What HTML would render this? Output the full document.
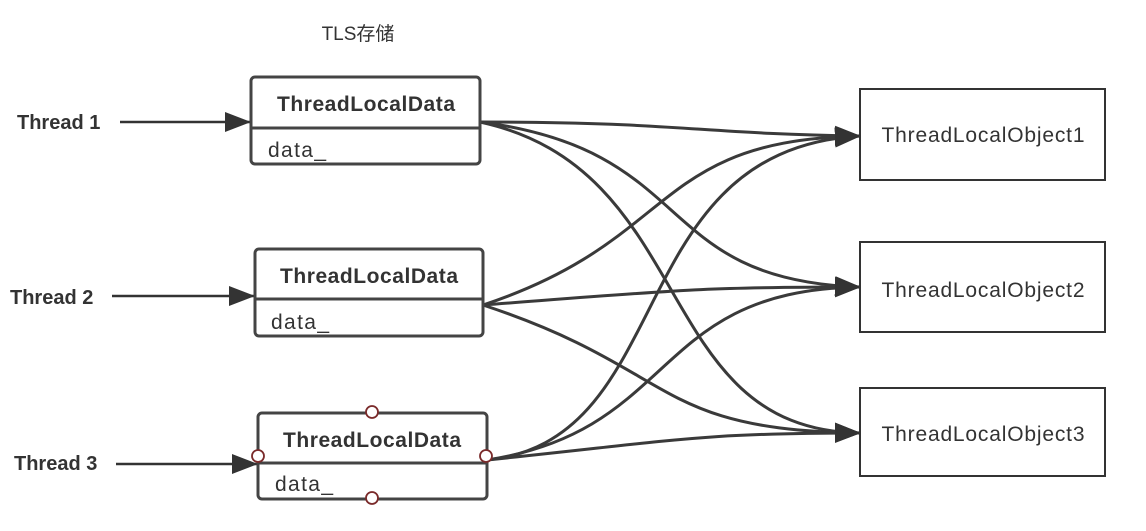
<!DOCTYPE html>
<html><head><style>
body{margin:0;background:#fff;width:1146px;height:526px;overflow:hidden;font-family:"Liberation Sans","Noto Sans CJK SC",sans-serif}
</style></head><body>
<svg width="1146" height="526" xmlns="http://www.w3.org/2000/svg" font-family="Liberation Sans, Noto Sans CJK SC, sans-serif">
<defs>
<marker id="b" markerWidth="26" markerHeight="20" refX="25" refY="10" orient="auto" markerUnits="userSpaceOnUse"><path d="M0,0 L26,10 L0,20 z" fill="#333"/></marker></defs>
<text x="358" y="40" font-size="19" fill="#333" text-anchor="middle">TLS存储</text>
<g font-size="20" font-weight="bold" fill="#333">
<text x="17" y="129">Thread 1</text><text x="10" y="304">Thread 2</text><text x="14" y="470">Thread 3</text></g>
<g stroke="#333" stroke-width="2.5" fill="none">
<line x1="120" y1="122" x2="250" y2="122" marker-end="url(#b)"/>
<line x1="112" y1="296" x2="254" y2="296" marker-end="url(#b)"/>
<line x1="116" y1="464" x2="257" y2="464" marker-end="url(#b)"/>
</g>
<g stroke="#3a3a3a" stroke-width="3" fill="none">
<path d="M480,122 C680,122 700,134 860,136" marker-end="url(#b)"/>
<path d="M480,122 C700,150 650,280 860,287" marker-end="url(#b)"/>
<path d="M480,122 C700,170 650,430 860,433" marker-end="url(#b)"/>
<path d="M483,305 C680,240 650,140 860,136" marker-end="url(#b)"/>
<path d="M483,305 C680,290 700,287 860,287" marker-end="url(#b)"/>
<path d="M483,305 C680,370 650,430 860,433" marker-end="url(#b)"/>
<path d="M487,460 C680,440 620,150 860,136" marker-end="url(#b)"/>
<path d="M487,460 C680,430 650,290 860,287" marker-end="url(#b)"/>
<path d="M487,460 C680,440 700,433 860,433" marker-end="url(#b)"/>
</g>
<g stroke="#444" stroke-width="3" fill="#fff">
<rect x="251" y="77" width="229" height="87" rx="4"/><line x1="251" y1="128" x2="480" y2="128"/>
<rect x="255" y="249" width="228" height="87" rx="4"/><line x1="255" y1="299" x2="483" y2="299"/>
<rect x="258" y="413" width="229" height="86" rx="4"/><line x1="258" y1="463" x2="487" y2="463"/>
</g>
<g stroke="#333" stroke-width="2" fill="#fff">
<rect x="860" y="89" width="245" height="91"/>
<rect x="860" y="242" width="245" height="90"/>
<rect x="860" y="388" width="245" height="88"/>
</g>
<g font-size="21" fill="#333">
<text x="366" y="111" font-weight="bold" text-anchor="middle" textLength="178">ThreadLocalData</text>
<text x="369" y="283" font-weight="bold" text-anchor="middle" textLength="178">ThreadLocalData</text>
<text x="372" y="447" font-weight="bold" text-anchor="middle" textLength="178">ThreadLocalData</text>
<text x="268" y="157" textLength="58">data_</text><text x="271" y="329" textLength="58">data_</text><text x="275" y="491" textLength="58">data_</text>
<text x="983" y="142" text-anchor="middle" textLength="203">ThreadLocalObject1</text>
<text x="983" y="297" text-anchor="middle" textLength="203">ThreadLocalObject2</text>
<text x="983" y="441" text-anchor="middle" textLength="203">ThreadLocalObject3</text>
</g>
<g stroke="#7a2a2a" stroke-width="1.8" fill="#fff">
<circle cx="372" cy="412" r="6"/><circle cx="372" cy="498" r="6"/><circle cx="258" cy="456" r="6"/><circle cx="486" cy="456" r="6"/>
</g>
</svg>
</body></html>
